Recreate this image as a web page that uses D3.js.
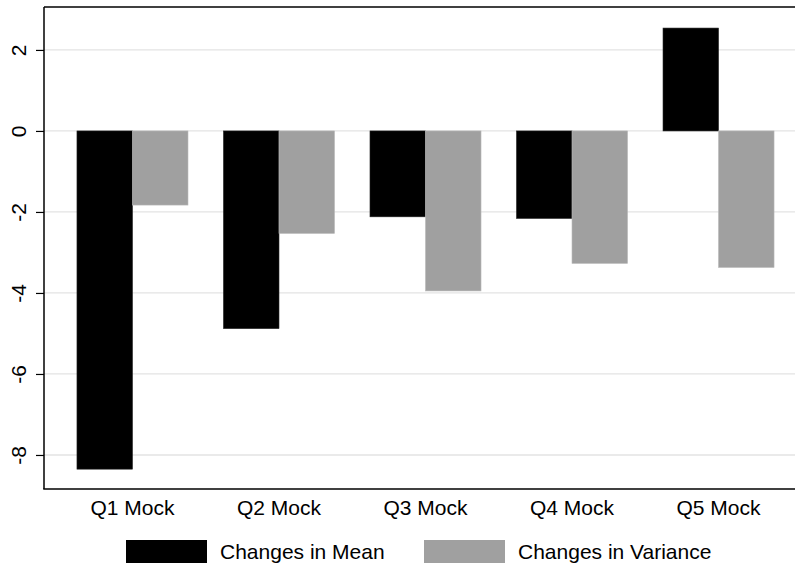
<!DOCTYPE html>
<html><head><meta charset="utf-8">
<script src="https://cdn.jsdelivr.net/npm/d3@7"></script>
<style>body{margin:0;background:#fff}svg{display:block}text{font-family:"Liberation Sans",Arial,Helvetica,sans-serif}</style>
</head><body>
<script>
const categories = ["Q1 Mock","Q2 Mock","Q3 Mock","Q4 Mock","Q5 Mock"];
const seriesNames = ["Changes in Mean","Changes in Variance"];
const meanValues = [-8.35,-4.88,-2.12,-2.16,2.54];
const varianceValues = [-1.83,-2.53,-3.95,-3.27,-3.37];
const yTicks = [-8,-6,-4,-2,0,2];
const colors = ["#000000","#a0a0a0"];

(function(){
const W=795,H=566;
const pL=44, pT=7, pB=489, pR=807;
const svg=d3.select("body").append("svg").attr("width",W).attr("height",H);

const y=d3.scaleLinear().domain([-8.84,3.06]).range([pB,pT]);
const x0=d3.scaleBand().domain(categories).range([pL,pR]).paddingInner(0.2423).paddingOuter(0.225);
const x1=d3.scaleBand().domain(seriesNames).range([0,x0.bandwidth()]);

// gridlines
svg.append("g").selectAll("line").data(yTicks).join("line")
 .attr("x1",pL).attr("x2",pR).attr("y1",d=>y(d)).attr("y2",d=>y(d))
 .attr("stroke","#e3e3e3").attr("stroke-width",1.3);

const data=categories.map((c,i)=>({c,vals:[meanValues[i],varianceValues[i]]}));
const g=svg.append("g");
data.forEach(d=>{
  d.vals.forEach((v,j)=>{
    g.append("rect").attr("x",x0(d.c)+x1(seriesNames[j])).attr("width",x1.bandwidth())
     .attr("y",y(Math.max(0,v))).attr("height",Math.abs(y(v)-y(0)))
     .attr("fill",colors[j]).attr("stroke",j===0?"#222":"#b8b8b8").attr("stroke-width",0.6);
  });
});

// y axis
const yAxis=d3.axisLeft(y).tickValues(yTicks).tickSize(8).tickPadding(0).tickFormat(d3.format("d"));
const ya=svg.append("g").attr("transform",`translate(${pL},0)`).call(yAxis);
ya.select(".domain").remove();
ya.selectAll(".tick line").attr("stroke","#000").attr("stroke-width",1.2);
ya.selectAll(".tick text").attr("x",null).attr("dy",null).attr("text-anchor","middle")
 .attr("transform","translate(-18,0) rotate(-90)").attr("fill","#000").style("font-size","21px")
 .text(d=>d<0?"-"+Math.abs(d):d);

// frame lines
svg.append("line").attr("x1",pL).attr("x2",pL).attr("y1",pT).attr("y2",pB).attr("stroke","#000").attr("stroke-width",1.5);
svg.append("line").attr("x1",pL).attr("x2",pR).attr("y1",pT).attr("y2",pT).attr("stroke","#000").attr("stroke-width",1.5);
svg.append("line").attr("x1",pL-0.75).attr("x2",pR).attr("y1",pB).attr("y2",pB).attr("stroke","#000").attr("stroke-width",1.5);

// x labels
const xAxis=d3.axisBottom(x0).tickSize(0).tickPadding(0);
const xa=svg.append("g").attr("transform",`translate(0,${pB})`).call(xAxis);
xa.select(".domain").remove();
xa.selectAll(".tick text").attr("y",26).attr("dy",null).attr("fill","#000").style("font-size","21px");

// legend
const legX=[126,424];
seriesNames.forEach((s,j)=>{
  svg.append("rect").attr("x",legX[j]).attr("y",540).attr("width",81).attr("height",23).attr("fill",colors[j]);
  svg.append("text").attr("x",legX[j]+94).attr("y",559).text(s).style("font-size","21px").attr("fill","#000");
});
})();
</script>
</body></html>
